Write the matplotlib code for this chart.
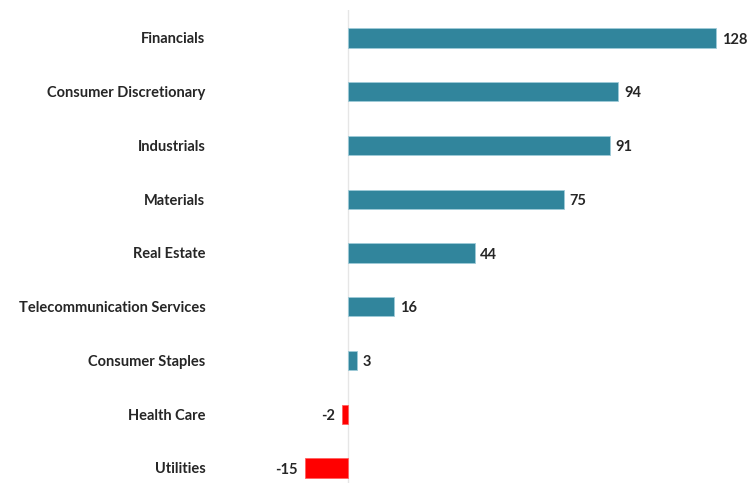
import matplotlib.pyplot as plt

# Sector values
sectors = ['Financials', 'Consumer Discretionary', 'Industrials', 'Materials',
           'Real Estate', 'Telecommunication Services', 'Consumer Staples',
           'Health Care', 'Utilities']
values = [128, 94, 91, 75, 44, 16, 3, -2, -15]

teal = '#31859C'
red = '#FF0000'
colors = [teal if v >= 0 else red for v in values]

plt.rcParams['font.family'] = ['Lato', 'DejaVu Sans']

fig = plt.figure(figsize=(7.47, 4.83), dpi=100)
ax = fig.add_axes([215 / 747, 0, (740 - 215) / 747, 473 / 483])

ypos = list(range(len(sectors)))
bars = ax.barh(ypos, values, height=0.36, color=colors, edgecolor='#9FCBD8',
               linewidth=0.6)
for b, c in zip(bars, colors):
    if c == red:
        b.set_edgecolor('#FF6060')

ax.set_xlim(-46.3, 136.3)
ax.set_ylim(8.28, -0.52)
ax.axvline(0, color='#E6E6E6', linewidth=1, zorder=0)

ax.set_yticks(ypos)
ax.set_yticklabels(sectors, fontsize=10.5, fontweight='bold', color='#262626')
ax.tick_params(axis='y', length=0, pad=7)
ax.set_xticks([])
for s in ax.spines.values():
    s.set_visible(False)

# value labels
for y, v in zip(ypos, values):
    if v >= 0:
        ax.text(v + 2, y + 0.03, str(v), va='center', ha='left', fontsize=10.5,
                fontweight='bold', color='#262626')
    else:
        ax.text(v - 2.5, y + 0.03, str(v), va='center', ha='right', fontsize=10.5,
                fontweight='bold', color='#262626')

plt.savefig('out.png', dpi=100)
